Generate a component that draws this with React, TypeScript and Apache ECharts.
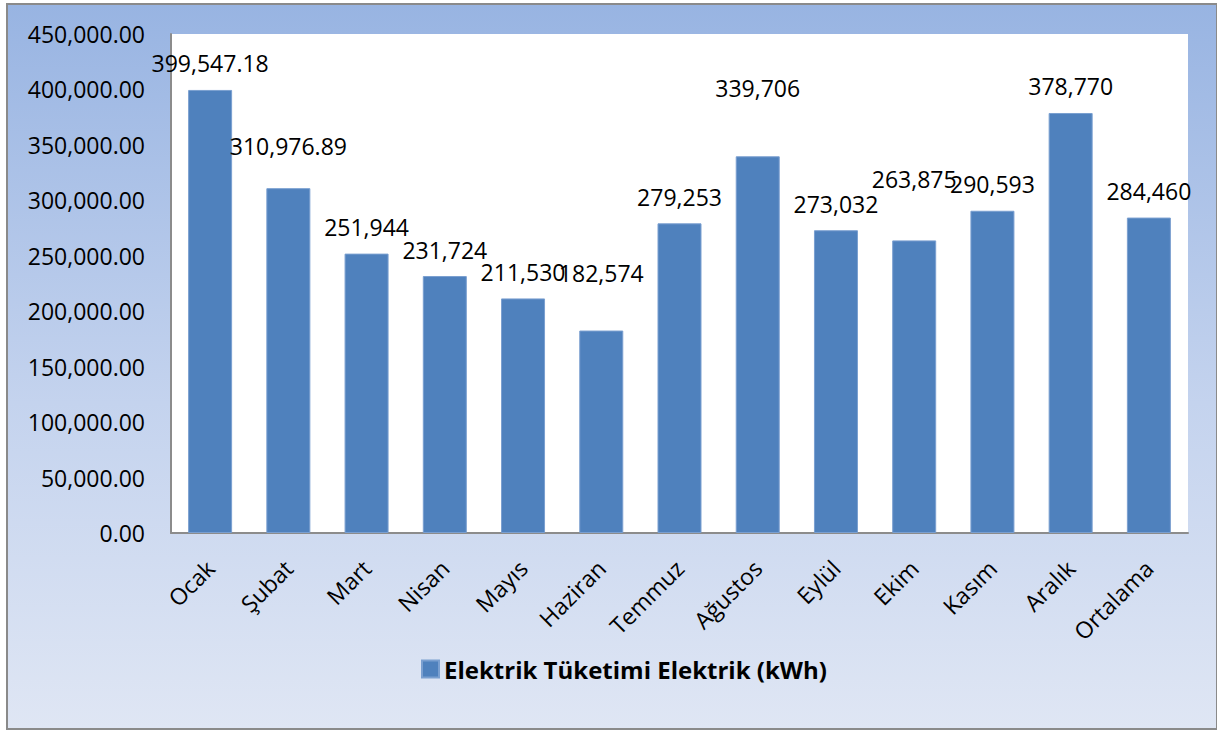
import React, { useEffect, useRef } from "react";
import * as echarts from "echarts";

const categories = ["Ocak", "Şubat", "Mart", "Nisan", "Mayıs", "Haziran", "Temmuz", "Ağustos", "Eylül", "Ekim", "Kasım", "Aralık", "Ortalama"];
const values = [399547.18, 310976.89, 251944, 231724, 211530, 182574, 279253, 339706, 273032, 263875, 290593, 378770, 284460];
const seriesName = "Elektrik Tüketimi Elektrik (kWh)";
const yMin = 0;
const yMax = 450000;
const yInterval = 50000;
// extra lift of individual data labels (px), as placed in the reference
const labelLift = [0, 16, 0, 0, 0, 31, 0, 42, 0, 35, 0, 0, 0];

const FONT = "'Open Sans', 'Noto Sans', sans-serif";

function fmtLabel(v: number): string {
  if (Number.isInteger(v)) return v.toLocaleString("en-US");
  return v.toLocaleString("en-US", { minimumFractionDigits: 2, maximumFractionDigits: 2 });
}

export default function App() {
  const ref = useRef<HTMLDivElement>(null);
  useEffect(() => {
    if (!ref.current) return;
    const chart = echarts.init(ref.current, undefined, { renderer: "svg" });
    chart.setOption({
      animation: false,
      backgroundColor: "transparent",
      grid: {
        left: 171,
        top: 34,
        right: 29,
        bottom: 201,
        show: true,
        backgroundColor: "#ffffff",
        borderWidth: 0,
      },
      legend: {
        data: [seriesName],
        left: 416,
        top: 652,
        itemWidth: 17,
        itemHeight: 17,
        itemGap: 8,
        icon: "rect",
        textStyle: { fontFamily: FONT, fontSize: 24, fontWeight: "bold", color: "#000" },
      },
      xAxis: {
        type: "category",
        data: categories,
        axisLine: { show: true, lineStyle: { color: "#8c8c8c", width: 2 } },
        axisTick: { show: false },
        axisLabel: {
          rotate: 45,
          margin: 31,
          interval: 0,
          fontFamily: FONT,
          fontSize: 23,
          color: "#000",
        },
      },
      yAxis: {
        type: "value",
        min: yMin,
        max: yMax,
        interval: yInterval,
        splitLine: { show: false },
        axisLine: { show: true, lineStyle: { color: "#8c8c8c", width: 2 } },
        axisTick: { show: false },
        axisLabel: {
          margin: 26,
          fontFamily: FONT,
          fontSize: 23,
          color: "#000",
          formatter: (v: number) => v.toLocaleString("en-US", { minimumFractionDigits: 2, maximumFractionDigits: 2 }),
        },
      },
      series: [
        {
          name: seriesName,
          type: "bar",
          barWidth: 44,
          itemStyle: { color: "#4F81BD", borderColor: "#7A9FD0", borderWidth: 1 },
          label: {
            show: true,
            position: "top",
            fontFamily: FONT,
            fontSize: 23,
            color: "#000",
            formatter: (p: any) => fmtLabel(p.value),
          },
          data: values.map((v, i) => ({ value: v, label: { distance: 15 + labelLift[i] } })),
        },
      ],
    });
    return () => chart.dispose();
  }, []);

  return (
    <div style={{ position: "fixed", left: 0, top: 0, width: 1217, height: 734, background: "#fff" }}>
      <div
        style={{
          position: "absolute",
          left: 6,
          top: 3,
          width: 1208,
          height: 723,
          border: "2px solid #8a8a8a",
          background: "linear-gradient(to bottom, #98B4E2 0%, #C4D3EE 55%, #DFE6F4 100%)",
        }}
      />
      <div ref={ref} style={{ position: "absolute", left: 0, top: 0, width: 1217, height: 734 }} />
    </div>
  );
}
